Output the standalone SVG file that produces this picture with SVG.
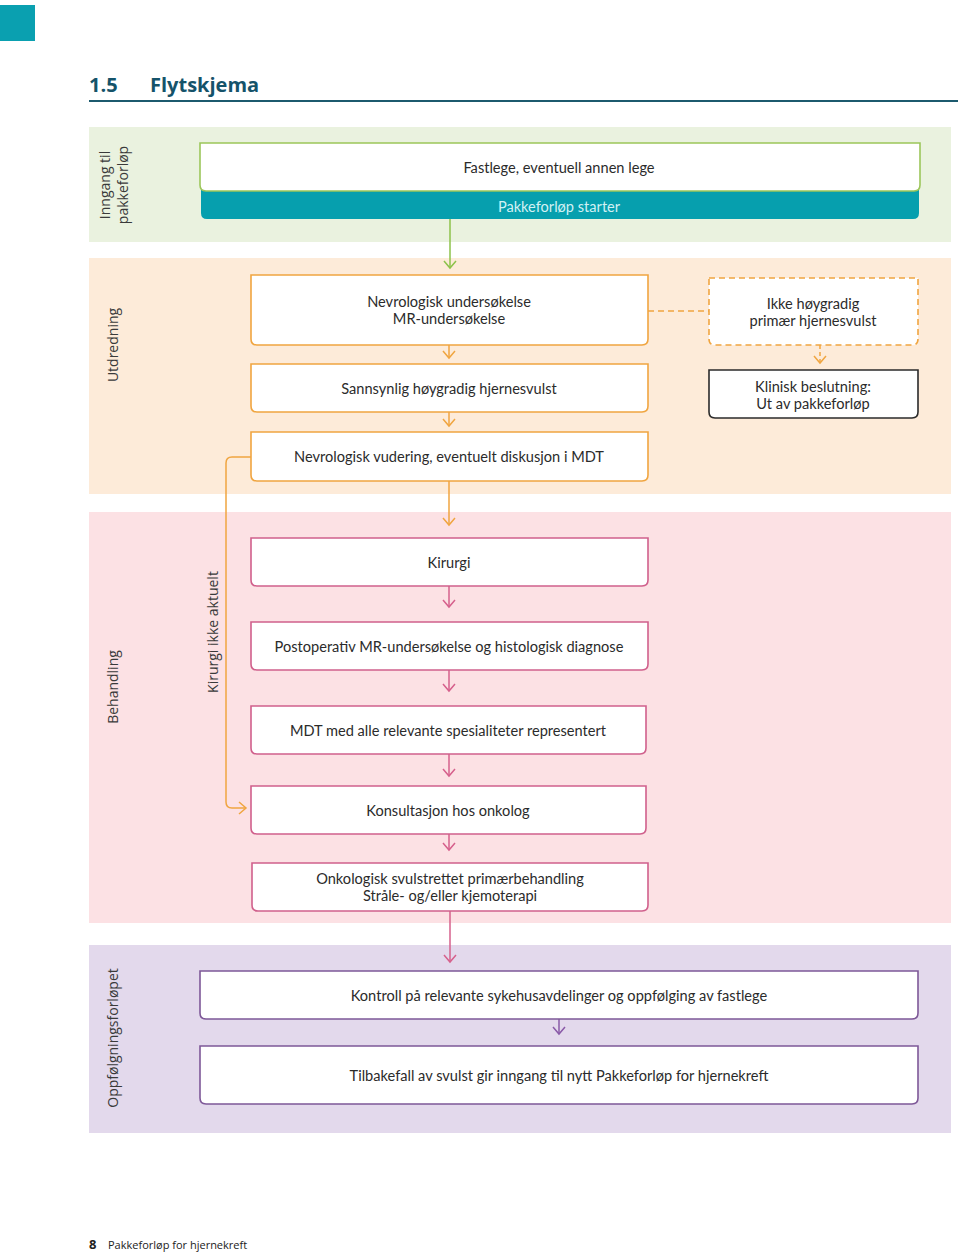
<svg xmlns="http://www.w3.org/2000/svg" width="960" height="1252" viewBox="0 0 960 1252">
<style>
  .t{font-family:Lato,"Open Sans","Liberation Sans",sans-serif;font-size:14.6px;fill:#2b2b2b;text-anchor:middle}
  .lane{font-family:"Open Sans","Liberation Sans",sans-serif;font-size:14px;fill:#3a3a3a;text-anchor:middle}
  .g{fill:#fff;stroke:#9cc65a;stroke-width:1.6}
  .o{fill:#fff;stroke:#f0a540;stroke-width:1.6}
  .p{fill:#fff;stroke:#d0608c;stroke-width:1.6}
  .v{fill:#fff;stroke:#7e5898;stroke-width:1.6}
  .k{fill:#fff;stroke:#2b2b2b;stroke-width:1.6}
  .dash{fill:#fff;stroke:#f0a540;stroke-width:1.6;stroke-dasharray:6 4}
  .cg{fill:none;stroke:#8dc24a;stroke-width:1.5}
  .co{fill:none;stroke:#f0a540;stroke-width:1.5}
  .cp{fill:none;stroke:#d6608c;stroke-width:1.5}
  .cv{fill:none;stroke:#8a5aa8;stroke-width:1.5}
</style>
<defs>
  <marker id="ag" viewBox="0 0 12 14" refX="10" refY="7" markerWidth="12" markerHeight="14" markerUnits="userSpaceOnUse" orient="auto"><path d="M3,1 L10,7 L3,13" fill="none" stroke="#8dc24a" stroke-width="1.5"/></marker>
  <marker id="ao" viewBox="0 0 12 14" refX="10" refY="7" markerWidth="12" markerHeight="14" markerUnits="userSpaceOnUse" orient="auto"><path d="M3,1 L10,7 L3,13" fill="none" stroke="#f0a540" stroke-width="1.5"/></marker>
  <marker id="ap" viewBox="0 0 12 14" refX="10" refY="7" markerWidth="12" markerHeight="14" markerUnits="userSpaceOnUse" orient="auto"><path d="M3,1 L10,7 L3,13" fill="none" stroke="#d6608c" stroke-width="1.5"/></marker>
  <marker id="av" viewBox="0 0 12 14" refX="10" refY="7" markerWidth="12" markerHeight="14" markerUnits="userSpaceOnUse" orient="auto"><path d="M3,1 L10,7 L3,13" fill="none" stroke="#8a5aa8" stroke-width="1.5"/></marker>
</defs>

<!-- page header -->
<rect x="0" y="5" width="35" height="36" fill="#0aa0b0"/>
<text x="89" y="92" font-family="'Open Sans','Liberation Sans',sans-serif" font-size="20" font-weight="bold" fill="#15536a">1.5</text>
<text x="150" y="92" font-family="'Open Sans','Liberation Sans',sans-serif" font-size="20" font-weight="bold" fill="#15536a">Flytskjema</text>
<line x1="89" y1="101" x2="958" y2="101" stroke="#1c5a6e" stroke-width="2"/>

<!-- lanes -->
<g id="lanes">
  <rect x="89" y="127" width="862" height="115" fill="#eaf2df"/>
  <rect x="89" y="258" width="862" height="236" fill="#fdebd9"/>
  <rect x="89" y="512" width="862" height="411" fill="#fce1e4"/>
  <rect x="89" y="945" width="862" height="188" fill="#e3d9ec"/>
  <text class="lane" transform="translate(110,185) rotate(-90)">Inngang til<tspan x="0" dy="18">pakkeforløp</tspan></text>
  <text class="lane" transform="translate(118,345) rotate(-90)">Utdredning</text>
  <text class="lane" transform="translate(118,687) rotate(-90)">Behandling</text>
  <text class="lane" transform="translate(218,632) rotate(-90)">Kirurgi ikke aktuelt</text>
  <text class="lane" transform="translate(118,1038) rotate(-90)">Oppfølgningsforløpet</text>
</g>

<!-- connectors -->
<g id="connectors">
  <line class="cg" x1="450" y1="219" x2="450" y2="268" marker-end="url(#ag)"/>
  <line class="co" x1="449" y1="345" x2="449" y2="358" marker-end="url(#ao)"/>
  <line class="co" x1="449" y1="412" x2="449" y2="426" marker-end="url(#ao)"/>
  <line class="co" x1="648" y1="311" x2="709" y2="311" stroke-dasharray="6 4"/>
  <line class="co" x1="820" y1="345" x2="820" y2="363" stroke-dasharray="4 3" marker-end="url(#ao)"/>
  <line class="co" x1="449" y1="481" x2="449" y2="525" marker-end="url(#ao)"/>
  <path class="co" d="M251,457 H232 Q226,457 226,463 V802 Q226,808 232,808 H246" marker-end="url(#ao)"/>
  <line class="cp" x1="449" y1="586" x2="449" y2="607" marker-end="url(#ap)"/>
  <line class="cp" x1="449" y1="670" x2="449" y2="691" marker-end="url(#ap)"/>
  <line class="cp" x1="449" y1="754" x2="449" y2="776" marker-end="url(#ap)"/>
  <line class="cp" x1="449" y1="834" x2="449" y2="850" marker-end="url(#ap)"/>
  <line class="cp" x1="450" y1="911" x2="450" y2="962" marker-end="url(#ap)"/>
  <line class="cv" x1="559" y1="1019" x2="559" y2="1034" marker-end="url(#av)"/>
</g>

<!-- nodes -->
<g id="n-fastlege">
  <path d="M201,190 H919 V213 Q919,219 913,219 H207 Q201,219 201,213 Z" fill="#069fae"/>
  <path class="g" d="M200,143 H920 V185 Q920,191 914,191 H206 Q200,191 200,185 Z"/>
  <text class="t" x="559" y="173">Fastlege, eventuell annen lege</text>
  <text class="t" x="559" y="212" style="fill:#d2f1f4">Pakkeforløp starter</text>
</g>
<g id="n-nevro-us">
  <path class="o" d="M251,275 H648 V339 Q648,345 642,345 H257 Q251,345 251,339 Z"/>
  <text class="t" x="449" y="307">Nevrologisk undersøkelse</text>
  <text class="t" x="449" y="324">MR-undersøkelse</text>
</g>
<g id="n-sannsynlig">
  <path class="o" d="M251,364 H648 V406 Q648,412 642,412 H257 Q251,412 251,406 Z"/>
  <text class="t" x="449" y="394">Sannsynlig høygradig hjernesvulst</text>
</g>
<g id="n-vurdering">
  <path class="o" d="M251,432 H648 V475 Q648,481 642,481 H257 Q251,481 251,475 Z"/>
  <text class="t" x="449" y="462">Nevrologisk vudering, eventuelt diskusjon i MDT</text>
</g>
<g id="n-ikke-hoygradig">
  <path class="dash" d="M709,278 H918 V339 Q918,345 912,345 H715 Q709,345 709,339 Z"/>
  <text class="t" x="813" y="309">Ikke høygradig</text>
  <text class="t" x="813" y="326">primær hjernesvulst</text>
</g>
<g id="n-klinisk">
  <path class="k" d="M709,370 H918 V412 Q918,418 912,418 H715 Q709,418 709,412 Z"/>
  <text class="t" x="813" y="392">Klinisk beslutning:</text>
  <text class="t" x="813" y="409">Ut av pakkeforløp</text>
</g>
<g id="n-kirurgi">
  <path class="p" d="M251,538 H648 V580 Q648,586 642,586 H257 Q251,586 251,580 Z"/>
  <text class="t" x="449" y="568">Kirurgi</text>
</g>
<g id="n-postop">
  <path class="p" d="M251,622 H648 V664 Q648,670 642,670 H257 Q251,670 251,664 Z"/>
  <text class="t" x="449" y="652">Postoperativ MR-undersøkelse og histologisk diagnose</text>
</g>
<g id="n-mdt">
  <path class="p" d="M251,706 H646 V748 Q646,754 640,754 H257 Q251,754 251,748 Z"/>
  <text class="t" x="448" y="736">MDT med alle relevante spesialiteter representert</text>
</g>
<g id="n-konsultasjon">
  <path class="p" d="M251,786 H646 V828 Q646,834 640,834 H257 Q251,834 251,828 Z"/>
  <text class="t" x="448" y="816">Konsultasjon hos onkolog</text>
</g>
<g id="n-onkologisk">
  <path class="p" d="M252,863 H648 V905 Q648,911 642,911 H258 Q252,911 252,905 Z"/>
  <text class="t" x="450" y="884">Onkologisk svulstrettet primærbehandling</text>
  <text class="t" x="450" y="901">Stråle- og/eller kjemoterapi</text>
</g>
<g id="n-kontroll">
  <path class="v" d="M200,971 H918 V1013 Q918,1019 912,1019 H206 Q200,1019 200,1013 Z"/>
  <text class="t" x="559" y="1001">Kontroll på relevante sykehusavdelinger og oppfølging av fastlege</text>
</g>
<g id="n-tilbakefall">
  <path class="v" d="M200,1046 H918 V1098 Q918,1104 912,1104 H206 Q200,1104 200,1098 Z"/>
  <text class="t" x="559" y="1081">Tilbakefall av svulst gir inngang til nytt Pakkeforløp for hjernekreft</text>
</g>

<!-- footer -->
<text x="89" y="1249" font-family="'Open Sans','Liberation Sans',sans-serif" font-size="13" font-weight="bold" fill="#222">8</text>
<text x="108" y="1249" font-family="'Open Sans','Liberation Sans',sans-serif" font-size="11" fill="#222">Pakkeforløp for hjernekreft</text>
</svg>
